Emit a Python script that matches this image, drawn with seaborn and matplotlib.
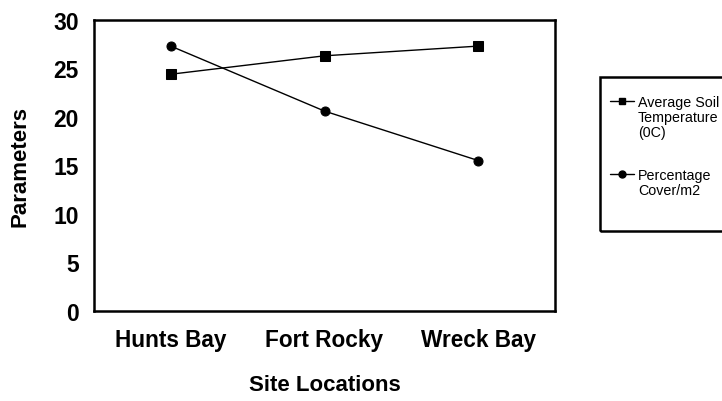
import numpy as np
import pandas as pd
import matplotlib
matplotlib.use("Agg")
import matplotlib.pyplot as plt
import seaborn as sns
from matplotlib.lines import Line2D
from matplotlib.patches import Rectangle

sites = ["Hunts Bay", "Fort Rocky", "Wreck Bay"]
soil_temp = [24.4, 26.3, 27.3]
pct_cover = [27.3, 20.6, 15.5]
series_names = ["Average Soil Temperature (0C)", "Percentage Cover/m2"]
legend_lines = [["Average Soil", "Temperature", "(0C)"], ["Percentage", "Cover/m2"]]

df = pd.DataFrame({
    "site": sites * 2,
    "value": soil_temp + pct_cover,
    "series": [series_names[0]] * 3 + [series_names[1]] * 3,
})

sns.set_style("white")
plt.rcParams["font.family"] = ["Liberation Sans", "DejaVu Sans"]
plt.rcParams["text.color"] = "black"
plt.rcParams["axes.labelcolor"] = "black"
plt.rcParams["xtick.color"] = "black"
plt.rcParams["ytick.color"] = "black"

fig = plt.figure(figsize=(7.22, 4.02), dpi=100)
ax = fig.add_axes([0.130, 0.224, 0.639, 0.724])

sns.lineplot(data=df, x="site", y="value", hue="series", style="series",
             markers=["s", "o"], dashes=False, sort=False,
             palette=["black", "black"], markersize=6.5, linewidth=1,
             markeredgecolor="black", ax=ax, legend=False)

ax.set_xlim(-0.5, 2.5)
ax.set_ylim(0, 30)
ax.set_yticks(range(0, 31, 5))
ax.tick_params(axis="y", length=0, labelsize=16.5, pad=11)
ax.tick_params(axis="x", length=0, labelsize=16.3, pad=12.5)
for t in ax.get_xticklabels() + ax.get_yticklabels():
    t.set_fontweight("bold")
ax.set_xlabel("Site Locations", fontsize=16, fontweight="bold", labelpad=16.5)
ax.set_ylabel("Parameters", fontsize=16, fontweight="bold", labelpad=16.5)
for s in ax.spines.values():
    s.set_color("black")
    s.set_linewidth(1.8)

# legend: one row per text line, handle on the first line of each entry
blank = Line2D([], [], linestyle="none")
handles, labels = [], []
for i, (m, lines) in enumerate(zip(["s", "o"], legend_lines)):
    if i > 0:
        handles.append(blank)
        labels.append(" ")
    for j, txt in enumerate(lines):
        if j == 0:
            handles.append(Line2D([], [], color="black", marker=m,
                                  markersize=5, linewidth=1))
        else:
            handles.append(blank)
        labels.append(txt)

leg = fig.legend(handles, labels, loc="upper left",
                 bbox_to_anchor=(610 / 722, 1 - 96 / 402), fontsize=10.3,
                 frameon=False, handlelength=1.68, handletextpad=0.28,
                 labelspacing=0.08, borderpad=0, borderaxespad=0)
leg.get_texts()[3].set_fontsize(20.5)

fig.patches.append(Rectangle((600 / 722, 1 - 232 / 402), 130 / 722, 154 / 402,
                             transform=fig.transFigure, fill=False,
                             edgecolor="black", linewidth=1.8))

fig.savefig("out.png", dpi=100)
